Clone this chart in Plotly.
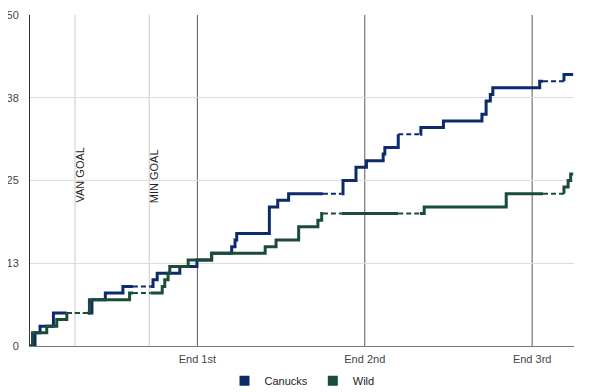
import plotly.graph_objects as go

# ---- data ----
team_names = ["Canucks", "Wild"]
team_colors = ["#0b2b6c", "#1a4d37"]

canucks_times = [0.6, 1.2, 2.8, 7.4, 9.0, 11.1, 14.7, 15.2, 17.9, 19.95, 21.7, 24.1, 24.5, 24.7,
                 28.6, 29.6, 30.9, 37.4, 38.95, 40.2, 42.2, 42.4, 44.0, 46.7, 49.4, 54.0, 54.5,
                 55.0, 55.3, 60.9, 63.8]
canucks_vals = [2, 3, 5, 7, 8, 9, 10, 11, 12, 13, 14, 15, 16, 17,
                21, 22, 23, 25, 27, 28, 29, 30, 32, 33, 34, 35, 37,
                38, 39, 40, 41]

wild_times = [0.3, 2.0, 3.2, 4.4, 7.1, 11.9, 15.8, 16.1, 16.5, 16.7, 18.9, 21.7, 28.1, 29.4,
              32.1, 34.4, 34.85, 47.1, 56.9, 63.8, 64.3, 64.6]
wild_vals = [2, 3, 4, 5, 7, 8, 9, 10, 11, 12, 13, 14, 15, 16,
             18, 19, 20, 21, 23, 24, 25, 26]

end_time = 64.9
gap_starts = [4.4, 12.3, 35.0, 44.0, 61.3]
gap_ends = [6.9, 14.4, 37.2, 46.6, 63.8]

period_ends = [20, 40, 60]
period_labels = ["End 1st", "End 2nd", "End 3rd"]
goal_times = [5.38, 14.25]
goal_labels = ["VAN GOAL", "MIN GOAL"]

y_ticks = [0, 12.5, 25, 37.5, 50]
y_tick_labels = ["0", "13", "25", "38", "50"]

FONT = "Arial, 'Liberation Sans', sans-serif"


def build_paths(times, vals):
    pts = [(0.0, 0)]
    cur = 0
    for t, v in zip(times, vals):
        pts.append((t, cur))
        pts.append((t, v))
        cur = v
    pts.append((end_time, cur))
    gaps = list(zip(gap_starts, gap_ends))
    segs = []
    for (x0, y0), (x1, y1) in zip(pts[:-1], pts[1:]):
        if y0 == y1 and x1 > x0:
            cuts = sorted({x0, x1} | {g for pair in gaps for g in pair if x0 < g < x1})
            for a, b in zip(cuts[:-1], cuts[1:]):
                mid = (a + b) / 2
                dashed = any(g0 <= mid <= g1 for g0, g1 in gaps)
                segs.append((a, y0, b, y1, dashed))
        else:
            segs.append((x0, y0, x1, y1, False))
    out = {False: ([], []), True: ([], [])}
    last = {False: None, True: None}
    for a, ya, b, yb, d in segs:
        xs, ys = out[d]
        if last[d] != (a, ya):
            if xs:
                xs.append(None)
                ys.append(None)
            xs.append(a)
            ys.append(ya)
        xs.append(b)
        ys.append(yb)
        last[d] = (b, yb)
    return out


fig = go.Figure()

# vertical reference lines
for g in goal_times:
    fig.add_shape(type="line", x0=g, x1=g, y0=0, y1=1, xref="x", yref="paper",
                  line=dict(color="#cccccc", width=1), layer="below")
for p in period_ends:
    fig.add_shape(type="line", x0=p, x1=p, y0=0, y1=1, xref="x", yref="paper",
                  line=dict(color="#5a5a5a", width=1), layer="below")

for name, color, times, vals in [
    (team_names[0], team_colors[0], canucks_times, canucks_vals),
    (team_names[1], team_colors[1], wild_times, wild_vals),
]:
    paths = build_paths(times, vals)
    sx, sy = paths[False]
    dx, dy = paths[True]
    fig.add_trace(go.Scatter(x=sx, y=sy, mode="lines", line=dict(color=color, width=3),
                             showlegend=False, hoverinfo="skip"))
    fig.add_trace(go.Scatter(x=dx, y=dy, mode="lines",
                             line=dict(color=color, width=2, dash="5px,3px"),
                             showlegend=False, hoverinfo="skip"))

for name, color in zip(team_names, team_colors):
    fig.add_trace(go.Scatter(x=[None], y=[None], mode="markers", name=name,
                             marker=dict(symbol="square", size=10, color=color)))

for g, lab in zip(goal_times, goal_labels):
    fig.add_annotation(x=g, y=21.3, text=lab, textangle=-90, showarrow=False,
                       xanchor="center", yanchor="bottom", xshift=5,
                       font=dict(family=FONT, size=11, color="#222222"))

# page body has an 8px margin, so the figure is 8px smaller and margins shifted
fig.update_layout(
    width=592, height=384,
    margin=dict(l=22, r=26, t=7, b=46, autoexpand=False),
    paper_bgcolor="white", plot_bgcolor="white",
    font=dict(family=FONT, size=11, color="#444444"),
    showlegend=True,
    legend=dict(orientation="h", x=0.5, xanchor="center", y=-0.105, yanchor="middle",
                font=dict(family=FONT, size=11, color="#222222"),
                itemwidth=30, tracegroupgap=0),
)
fig.update_xaxes(range=[0, 65], showgrid=False, zeroline=False, automargin=False,
                 tickvals=period_ends, ticktext=period_labels,
                 ticks="outside", ticklen=3, tickcolor="rgba(0,0,0,0)",
                 showline=True, linecolor="#777777", linewidth=1,
                 tickfont=dict(family=FONT, size=11, color="#444444"))
fig.update_yaxes(range=[0, 50], tickvals=y_ticks, ticktext=y_tick_labels, automargin=False,
                 showgrid=True, gridcolor="#dddddd", gridwidth=1, zeroline=False,
                 ticks="outside", ticklen=8, tickcolor="rgba(0,0,0,0)",
                 showline=True, linecolor="#333333", linewidth=1,
                 tickfont=dict(family=FONT, size=11, color="#444444"))

fig.write_html("out.html")
